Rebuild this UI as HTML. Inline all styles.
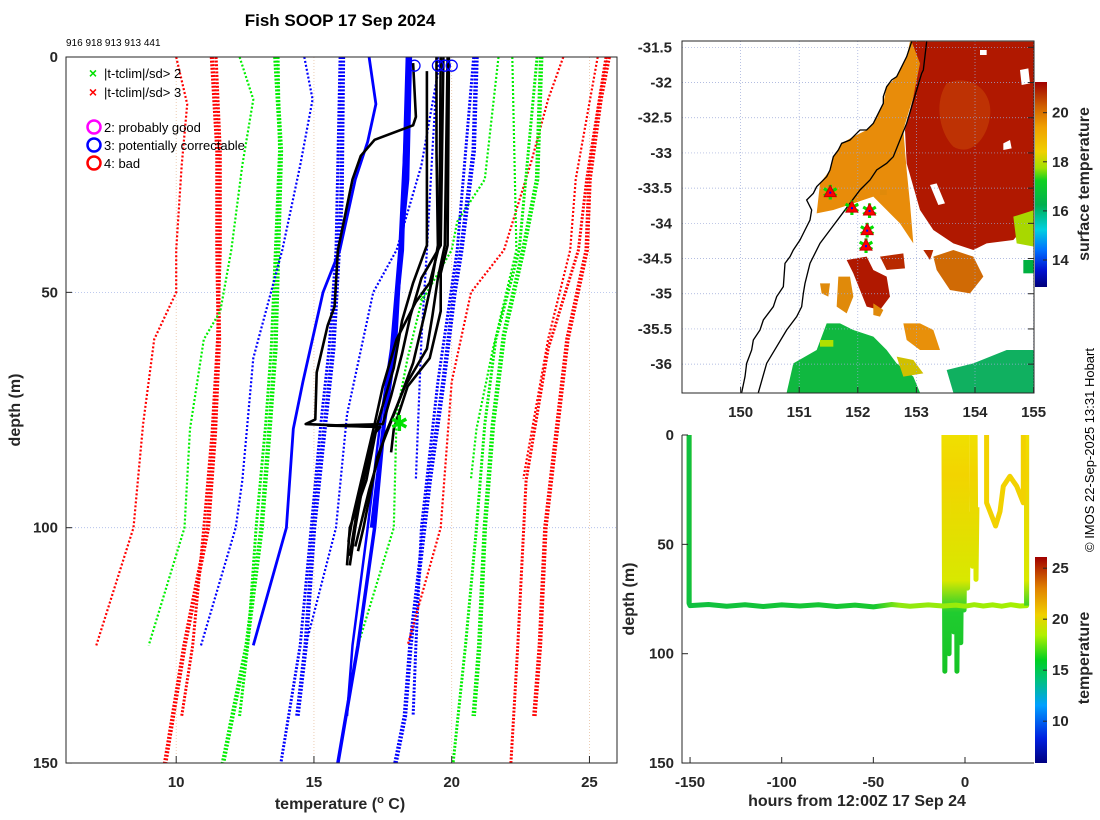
<!DOCTYPE html>
<html><head><meta charset="utf-8">
<style>
html,body{margin:0;padding:0;background:#fff;}
svg{display:block;font-family:"Liberation Sans","DejaVu Sans",sans-serif;}
.tk{font-size:15px;font-weight:bold;fill:#262626;}
.lb{font-size:16px;font-weight:bold;fill:#262626;}
</style></head>
<body>
<svg id="fig" width="1100" height="820" viewBox="0 0 1100 820" xmlns="http://www.w3.org/2000/svg">
<defs>
 <linearGradient id="sstbar" x1="0" y1="1" x2="0" y2="0">
  <stop offset="0" stop-color="#00007a"/><stop offset="0.08" stop-color="#0010d0"/>
  <stop offset="0.18" stop-color="#0070ff"/><stop offset="0.28" stop-color="#00d0e0"/>
  <stop offset="0.40" stop-color="#00b050"/><stop offset="0.52" stop-color="#10d020"/>
  <stop offset="0.58" stop-color="#a0e000"/><stop offset="0.66" stop-color="#f0d000"/>
  <stop offset="0.78" stop-color="#f0a000"/><stop offset="0.88" stop-color="#d06000"/>
  <stop offset="1" stop-color="#a00000"/>
 </linearGradient>
 <linearGradient id="tbar" x1="0" y1="1" x2="0" y2="0">
  <stop offset="0" stop-color="#000080"/><stop offset="0.12" stop-color="#0020e0"/>
  <stop offset="0.28" stop-color="#00a0ff"/><stop offset="0.40" stop-color="#00c080"/>
  <stop offset="0.50" stop-color="#00d020"/><stop offset="0.62" stop-color="#b0f000"/>
  <stop offset="0.72" stop-color="#f0d000"/><stop offset="0.85" stop-color="#e08000"/>
  <stop offset="1" stop-color="#a00000"/>
 </linearGradient>
 <linearGradient id="trk" gradientUnits="userSpaceOnUse" x1="0" y1="435" x2="0" y2="700">
  <stop offset="0" stop-color="#f0e000"/><stop offset="0.15" stop-color="#f2d400"/>
  <stop offset="0.55" stop-color="#d8e800"/><stop offset="0.62" stop-color="#60d820"/>
  <stop offset="0.67" stop-color="#20cc30"/><stop offset="1" stop-color="#10c020"/>
 </linearGradient>
 <linearGradient id="trkh" gradientUnits="userSpaceOnUse" x1="686" y1="0" x2="1030" y2="0">
  <stop offset="0" stop-color="#10c040"/><stop offset="0.55" stop-color="#18c830"/>
  <stop offset="0.62" stop-color="#90e810"/><stop offset="1" stop-color="#a8f000"/>
 </linearGradient>
 <clipPath id="clipL"><rect x="66" y="57" width="551" height="706"/></clipPath>
 <clipPath id="clipM"><rect x="682" y="41" width="352" height="352"/></clipPath>
 <clipPath id="clipB"><rect x="682" y="435" width="352" height="328"/></clipPath>
</defs>

<text x="340" y="26" text-anchor="middle" style="font-size:17px;font-weight:bold">Fish SOOP 17 Sep 2024</text>
<text x="66" y="46" style="font-size:10px">916 918 913 913 441</text>

<g id="leftGrid"></g>
<g id="leftLines" clip-path="url(#clipL)"></g>
<rect x="66" y="57" width="551" height="706" fill="none" stroke="#262626" stroke-width="1"/>
<g id="leftTicks"></g>
<text x="20" y="410" transform="rotate(-90 20 410)" text-anchor="middle" class="lb">depth (m)</text>
<text x="340" y="809" text-anchor="middle" class="lb">temperature (<tspan dy="-6" style="font-size:11px">o</tspan><tspan dy="6"> C)</tspan></text>

<g>
 <text x="93" y="78" text-anchor="middle" fill="#00e000" style="font-size:14px;font-weight:bold">×</text>
 <text x="104" y="78" style="font-size:13px">|t-tclim|/sd&gt; 2</text>
 <text x="93" y="97" text-anchor="middle" fill="#ff0000" style="font-size:14px;font-weight:bold">×</text>
 <text x="104" y="97" style="font-size:13px">|t-tclim|/sd&gt; 3</text>
 <circle cx="94" cy="127" r="6.5" fill="none" stroke="#ff00ff" stroke-width="2.5"/>
 <text x="104" y="132" style="font-size:13px">2: probably good</text>
 <circle cx="94" cy="145" r="6.5" fill="none" stroke="#0000ff" stroke-width="2.5"/>
 <text x="104" y="150" style="font-size:13px">3: potentially correctable</text>
 <circle cx="94" cy="163" r="6.5" fill="none" stroke="#ff0000" stroke-width="2.5"/>
 <text x="104" y="168" style="font-size:13px">4: bad</text>
</g>

<!-- MAP -->
<g clip-path="url(#clipM)">
 <g transform="translate(620,30) scale(0.33333)">
  <path d="M870,35 L860,80 L830,140 L800,170 L790,220 L760,280 L740,300 L700,320 L665,340 L640,380 L630,420 L600,460 L590,550 L640,540 L700,520 L760,500 L800,540 L840,580 L880,640 L870,520 L860,420 L850,300 L880,200 L905,100 L915,35 Z" fill="#e88c0a"/>
  <path d="M875,35 L1243,35 L1243,560 L1180,630 L1100,640 L1060,660 L1000,640 L940,600 L900,540 L880,470 L860,400 L855,300 L880,200 L900,100 Z" fill="#b01800"/>
  <path d="M980,160 C1050,130 1120,180 1110,260 C1100,330 1050,380 1000,350 C960,310 940,220 980,160 Z" fill="#c23a05" opacity="0.8"/>
  <path d="M1200,120 L1225,115 L1230,160 L1205,165 Z M1150,340 L1170,330 L1175,355 L1150,360 Z M930,465 L950,460 L975,520 L955,525 Z M1080,60 L1100,60 L1100,75 L1080,75 Z" fill="#ffffff"/>
  <path d="M1180,560 L1243,540 L1243,650 L1190,640 Z" fill="#a8d800"/>
  <path d="M1210,690 L1243,690 L1243,730 L1210,730 Z" fill="#00b040"/>
  <path d="M940,680 L1000,660 L1060,680 L1090,740 L1050,790 L990,780 L950,720 Z" fill="#d06a05"/>
  <path d="M680,690 L740,680 L760,720 L800,740 L810,800 L780,840 L740,830 L720,780 L700,730 Z" fill="#b01800"/>
  <path d="M780,680 L850,670 L855,715 L800,720 Z M910,660 L940,660 L930,690 Z" fill="#b82a00"/>
  <path d="M655,740 L690,740 L700,800 L680,850 L650,830 Z M600,760 L630,760 L625,800 L605,790 Z M760,820 L790,840 L780,860 L760,855 Z M780,480 L800,480 L800,495 L780,495 Z" fill="#e08a0a"/>
  <path d="M850,880 L900,880 L940,900 L960,960 L900,960 L860,930 Z" fill="#e8900a"/>
  <path d="M500,1088 L520,1000 L590,960 L620,880 L660,880 L700,900 L760,920 L800,960 L830,1000 L880,1040 L900,1088 Z" fill="#10b840"/>
  <path d="M830,980 L880,990 L910,1030 L850,1040 Z" fill="#d0c000"/>
  <path d="M980,1020 L1060,1000 L1160,960 L1243,960 L1243,1088 L1000,1088 Z" fill="#10b060"/>
  <path d="M600,930 L640,930 L640,950 L600,950 Z" fill="#b0e000"/>
 </g>
 <g id="mapGrid"></g>
 <g transform="translate(620,30) scale(0.33333)" fill="none" stroke="#000" stroke-width="4">
  <path d="M365,1088 L375,1040 L380,1000 L395,960 L400,930 L420,900 L430,870 L460,830 L470,800 L490,770 L495,700 L510,680 L520,660 L540,630 L555,600 L570,570 L575,540 L560,510 L580,490 L590,470 L600,460 L620,440 L630,420 L635,400 L640,380 L655,360 L665,340 L690,330 L700,320 L720,300 L740,300 L760,280 L775,250 L790,220 L790,200 L800,170 L815,150 L830,140 L845,110 L860,80 L875,35"/>
  <path d="M415,1088 L440,1000 L470,950 L500,900 L530,860 L545,830 L550,790 L555,760 L570,700 L600,640 L630,600 L660,560 L690,520 L720,480 L750,450 L770,420 L800,400 L820,380 L840,330 L860,280 L875,230 L890,180 L905,130 L910,120 L920,35" stroke-width="4"/>
 </g>
 <g id="mapMarks"></g>
</g>
<rect x="682" y="41" width="352" height="352" fill="none" stroke="#262626" stroke-width="1"/>
<g id="mapTicks"></g>
<rect x="1035" y="82" width="12" height="205" fill="url(#sstbar)"/>
<g id="sstTicks"></g>
<text x="1089" y="184" transform="rotate(-90 1089 184)" text-anchor="middle" class="lb">surface temperature</text>

<!-- BOTTOM RIGHT -->
<g id="trkLines" clip-path="url(#clipB)"></g>
<path d="M682,435 L682,763 L1034,763" fill="none" stroke="#262626" stroke-width="1"/>
<g id="trkTicks"></g>
<text x="634" y="599" transform="rotate(-90 634 599)" text-anchor="middle" class="lb">depth (m)</text>
<text x="857" y="806" text-anchor="middle" class="lb">hours from 12:00Z 17 Sep 24</text>
<rect x="1035" y="557" width="12" height="206" fill="url(#tbar)"/>
<g id="tTicks"></g>
<text x="1089" y="658" transform="rotate(-90 1089 658)" text-anchor="middle" class="lb">temperature</text>
<text x="1094" y="450" transform="rotate(-90 1094 450)" text-anchor="middle" style="font-size:13px">© IMOS 22-Sep-2025 13:31 Hobart</text>

<script>
const NS = "http://www.w3.org/2000/svg";
// ----- profile chart data: [depth, temperature] -----
const climRedThinL = [[0,10.0],[10,10.4],[23,10.2],[41,10.0],[50,10.0],[60,9.2],[78,8.8],[100,8.45],[125,7.1]];
const climRedThickL1 = [[0,11.3],[20,11.5],[41,11.5],[60,11.55],[80,11.4],[100,11.15],[125,10.3],[150,9.6]];
const climRedThickL2 = [[0,11.45],[20,11.6],[41,11.6],[60,11.5],[80,11.3],[100,11.0],[125,10.6],[140,10.2]];
const climGreenThinL = [[0,12.3],[9,12.8],[23,12.4],[41,12.0],[54,11.6],[60,11.0],[79,10.5],[100,10.3],[125,9.0]];
const climGreenThickL1 = [[0,13.6],[20,13.8],[41,13.7],[62,13.6],[78,13.4],[100,13.1],[125,12.56],[150,11.7]];
const climGreenThickL2 = [[0,13.7],[20,13.75],[41,13.6],[62,13.45],[78,13.25],[100,12.9],[125,12.6],[140,12.3]];
const climBlueThinL = [[0,14.65],[9,14.95],[23,14.5],[41,13.85],[64,12.8],[90,12.4],[100,12.16],[125,10.9]];
const climBlueThickL1 = [[0,16.05],[30,16.0],[41,15.9],[62,15.7],[78,15.4],[100,15.0],[125,14.7],[140,14.4]];
const climBlueThickL2 = [[0,15.95],[41,15.8],[62,15.55],[78,15.25],[100,14.9],[125,14.5],[150,13.8]];
const climBlueThinM = [[0,19.6],[23,18.9],[41,18.0],[50,17.15],[76,16.2],[100,15.8],[125,14.7]];
const climGreenThinM = [[0,21.7],[26,21.2],[35,20.2],[41,20.0],[52,18.9],[64,18.4],[76,18.0],[100,17.9],[125,16.6]];
const climBlueThickR1 = [[0,20.9],[20,20.8],[41,20.35],[50,20.1],[69,19.7],[90,19.2],[100,19.0],[125,18.5],[140,18.3],[150,17.96]];
const climBlueThickR2 = [[0,20.8],[41,20.2],[69,19.5],[100,18.9],[125,18.7],[140,18.6]];
const climBlueThinR = [[0,19.5],[20,19.3],[41,19.1],[60,18.9],[89.6,18.7]];
const climRedThinR = [[0,24.05],[9,23.5],[22,22.9],[41,21.9],[50,20.7],[69,20.0],[100,19.6],[125,18.4]];
const climGreenThickR1 = [[0,23.25],[26,23.1],[41,22.6],[59,21.9],[78,21.5],[100,21.2],[125,21.0],[140,20.8]];
const climGreenThickR2 = [[0,23.1],[41,22.45],[60,21.6],[78,21.2],[100,20.9],[125,20.5],[150,20.05]];
const climGreenThinR = [[0,22.2],[41,22.35],[62,21.5],[79,20.9],[89.6,20.7]];
const climRedThickR1 = [[0,25.7],[9,25.4],[26,25.0],[41,24.9],[60,24.2],[100,23.4],[125,23.2],[140,23.0]];
const climRedThickR2 = [[0,25.6],[26,24.9],[41,24.6],[62,23.5],[90,22.7],[125,22.4],[150,22.15]];
const climRedThinR2 = [[0,25.3],[26,24.5],[41,24.3],[60,23.5],[89.6,22.6]];
const obsBlueA = [[0,17.0],[10,17.25],[18,16.95],[26,16.5],[41,15.94],[50,15.33],[69,14.6],[79,14.25],[100,14.0],[125,12.8]];
const obsBlueB = [[0,18.5],[26,18.4],[41,18.15],[62,17.95],[78,17.55],[100,17.2],[125,16.6],[150,15.87]];
const obsBlueC = [[0,18.45],[41,18.1],[62,17.8],[78,17.4],[100,16.95],[125,16.4],[140,16.2]];
const obsBlueD = [[0,18.4],[41,18.2],[70,17.7],[100,17.1]];
const obsBlack1 = [[1.3,18.6],[12.7,18.7],[14.5,18.6],[17.6,17.2],[21,16.7],[26,16.4],[41,15.87],[53,15.75],[57,15.5],[67,15.1],[77,15.05],[78,14.7],[78.3,16.0],[78.6,17.3],[80,17.2],[90,16.8],[100,16.5],[108,16.3]];
const obsBlack2 = [[0,19.45],[20,19.45],[40,19.5],[47,19.3],[55,19.0],[65,18.6],[76,17.9],[85,17.3],[100,16.8],[105,16.6]];
const obsBlack3 = [[0,19.85],[20,19.8],[40,19.75],[47,19.5],[55,19.3],[62,19.1],[70,18.3],[80,17.6],[92,17.0],[104,16.5]];
const obsBlack4 = [[3,19.1],[20,19.1],[40,19.1],[48,18.6],[56,18.2],[66,17.9],[78,17.3],[90,16.9],[100,16.3],[108,16.2]];
const obsBlack5 = [[0,19.7],[40,19.6],[47,18.9],[55,18.5],[63,18.2],[72,17.8],[78,17.5],[78.3,15.5],[78.6,17.4],[80,17.2],[95,16.6],[106,16.3]];
const obsBlack6 = [[0,19.6],[40,19.55],[48,19.2],[52,18.7],[60,18.0],[70,17.5],[78,17.2],[88,16.8],[98,16.4],[103,16.25]];
const obsBlack7 = [[0,19.9],[40,19.85],[46,19.6],[54,19.6],[64,19.2],[70,18.4],[79,17.9],[84,17.8]];
const flagCircleTemps = [18.65, 19.5, 19.75, 20.0];
const flagCircleDepths = [1, 1, 1, 1];
const flagXTemps = [18.95];
const flagXDepths = [51];
const flagStarTemps = [18.1];
const flagStarDepths = [78];
const tempTicks = [10, 15, 20, 25];
const depthTicks = [0, 50, 100, 150];

// ----- map data -----
const lonTicks = [150, 151, 152, 153, 154, 155];
const latTicks = [-31.5, -32, -32.5, -33, -33.5, -34, -34.5, -35, -35.5, -36];
const dropLons = [151.53, 151.90, 152.20, 152.16, 152.14];
const dropLats = [-33.55, -33.77, -33.81, -34.09, -34.31];
const sstTicks = [14, 16, 18, 20];

// ----- depth/time track data -----
const trackHours = [-150.5,-150.5,-150,-140,-130,-120,-110,-100,-90,-80,-70,-60,-50,-40,-30,-20,-12,-5,0,5,10,15,20,25,30,33.6,33.6];
const trackDepths = [0,77,78,77.5,78.3,77.6,78.4,77.7,78.2,77.6,78.4,77.8,78.6,77.5,78.3,77.7,78.2,77.8,78.3,77.6,78.2,77.7,78.3,77.6,78.2,78,0];
const spikeHours = [-11.5, -10.7, -9.2, -6.7, -4.9, -2.8, -1.0, 0.9, 3.6, 5.5];
const spikeBottoms = [108, 95, 100, 90, 108, 95, 80, 70, 60, 66];
const shallowHours = [11.8, 11.8, 16.7, 19.1, 20.9, 24.5, 28.2, 31.8, 31.8];
const shallowDepths = [0, 31, 41.6, 35, 23.4, 18.9, 23.4, 31, 0];
const hourTicks = [-150, -100, -50, 0];
const trkDepthTicks = [0, 50, 100, 150];
const tempBarTicks = [10, 15, 20, 25];

// ----- scales -----
const X = t => 66 + (t - 6) * 27.55;
const Y = d => 57 + d * 4.707;
const LON = l => 682 + (l - 149) * 58.6;
const LAT = l => 41 + (-31.41 - l) * 70.4;
const HX = h => 965 + h * 1.833;
const HY = d => 435 + d * 2.187;
const SY = v => 287 - (v - 12.9) * 24.55;
const TY = v => 763 - (v - 5.9) * 10.2;

function mk(tag, parent, attrs) {
  const e = document.createElementNS(NS, tag);
  for (const k in attrs) e.setAttribute(k, attrs[k]);
  parent.appendChild(e);
  return e;
}
const gGrid = document.getElementById('leftGrid');
const gL = document.getElementById('leftLines');
const gT = document.getElementById('leftTicks');

tempTicks.forEach(t => {
  const l = mk('line', gGrid, {x1: X(t), x2: X(t), y1: 57, y2: 763, stroke: '#e8c0a0', 'stroke-width': 0.8, 'stroke-dasharray': '1 2'});
  
  
  const tk = mk('line', gT, {x1: X(t), x2: X(t), y1: 763, y2: 756, stroke: '#262626'});
  
  
  const tx = mk('text', gT, {x: X(t), y: 787, 'text-anchor': 'middle', class: 'tk'});
  tx.textContent = t;
  
  
});
depthTicks.forEach(d => {
  if (d > 0 && d < 150) {
    const l = mk('line', gGrid, {x1: 66, x2: 617, y1: Y(d), y2: Y(d), stroke: '#a8b8e8', 'stroke-width': 0.8, 'stroke-dasharray': '1 2'});
    
    
  }
  const tk = mk('line', gT, {x1: 66, x2: 72, y1: Y(d), y2: Y(d), stroke: '#262626'});
  
  
  const tx = mk('text', gT, {x: 58, y: Y(d) + 5, 'text-anchor': 'end', class: 'tk'});
  tx.textContent = d;
  
  
});

function profile(data, color, width, dotted, name) {
  const pts = data.map(p => X(p[1]).toFixed(1) + ',' + Y(p[0]).toFixed(1)).join(' ');
  const a = {points: pts, fill: 'none', stroke: color, 'stroke-width': width, 'stroke-linejoin': 'round'};
  if (dotted) a['stroke-dasharray'] = dotted;
  const e = mk('polyline', gL, a);
  
  
}
const R = '#ff0000', G = '#00ee00', B = '#0000ff';
profile(climRedThinL, R, 2.2, '2 2', 'clim-red-thin-left');
profile(climRedThickL1, R, 4.5, '2 1.6', 'clim-red-thick-left');
profile(climRedThickL2, R, 3, '2 1.6', 'clim-red-thick-left-2');
profile(climGreenThinL, G, 2.2, '2 2', 'clim-green-thin-left');
profile(climGreenThickL1, G, 4.5, '2 1.6', 'clim-green-thick-left');
profile(climGreenThickL2, G, 3, '2 1.6', 'clim-green-thick-left-2');
profile(climBlueThinL, B, 2.2, '2 2', 'clim-blue-thin-left');
profile(climBlueThickL1, B, 4.5, '2 1.6', 'clim-blue-thick-left');
profile(climBlueThickL2, B, 3, '2 1.6', 'clim-blue-thick-left-2');
profile(climBlueThinM, B, 2.2, '2 2', 'clim-blue-thin-mid');
profile(climGreenThinM, G, 2.2, '2 2', 'clim-green-thin-mid');
profile(climBlueThickR1, B, 4.5, '2 1.6', 'clim-blue-thick-right');
profile(climBlueThickR2, B, 3, '2 1.6', 'clim-blue-thick-right-2');
profile(climBlueThinR, B, 2.2, '2 2', 'clim-blue-thin-right');
profile(climRedThinR, R, 2.2, '2 2', 'clim-red-thin-right');
profile(climGreenThickR1, G, 4.5, '2 1.6', 'clim-green-thick-right');
profile(climGreenThickR2, G, 3, '2 1.6', 'clim-green-thick-right-2');
profile(climGreenThinR, G, 2.2, '2 2', 'clim-green-thin-right');
profile(climRedThickR1, R, 4.5, '2 1.6', 'clim-red-thick-right');
profile(climRedThickR2, R, 3, '2 1.6', 'clim-red-thick-right-2');
profile(climRedThinR2, R, 2.2, '2 2', 'clim-red-thin-right-2');
profile(obsBlueA, B, 2.8, null, 'profile-blue-a');
profile(obsBlueB, B, 3.5, null, 'profile-blue-b');
profile(obsBlueC, B, 2.5, null, 'profile-blue-c');
profile(obsBlueD, B, 4, null, 'profile-blue-d');
[obsBlack1, obsBlack2, obsBlack3, obsBlack4, obsBlack5, obsBlack6, obsBlack7].forEach((p, i) => {
  profile(p, '#000', 2.6, null, 'profile-black-' + (i + 1));
});
flagCircleTemps.forEach((t, i) => {
  const c = mk('circle', gL, {cx: X(t), cy: Y(flagCircleDepths[i]) + 4, r: 5.5, fill: 'none', stroke: B, 'stroke-width': 1.3});
  
  
});
flagXTemps.forEach((t, i) => {
  const x = mk('text', gL, {x: X(t), y: Y(flagXDepths[i]) + 5, 'text-anchor': 'middle', fill: '#00e000', style: 'font-size:14px'});
  x.textContent = '×';
  
  
});
flagStarTemps.forEach((t, i) => {
  const x = mk('text', gL, {x: X(t), y: Y(flagStarDepths[i]) + 7, 'text-anchor': 'middle', fill: '#00e000', style: 'font-size:22px;font-weight:bold'});
  x.textContent = '✱';
  
  
});

// ----- map -----
const mg = document.getElementById('mapGrid');
const mt = document.getElementById('mapTicks');
lonTicks.forEach(l => {
  const g = mk('line', mg, {x1: LON(l), x2: LON(l), y1: 41, y2: 393, stroke: '#9aa8d8', 'stroke-width': 0.7, 'stroke-dasharray': '1 2'});
  
  
  const tx = mk('text', mt, {x: LON(l), y: 417, 'text-anchor': 'middle', class: 'tk'});
  tx.textContent = l;
  
  
  const tk = mk('line', mt, {x1: LON(l), x2: LON(l), y1: 393, y2: 387, stroke: '#262626'});
  
  
});
latTicks.forEach(l => {
  const g = mk('line', mg, {x1: 682, x2: 1034, y1: LAT(l), y2: LAT(l), stroke: '#9aa8d8', 'stroke-width': 0.7, 'stroke-dasharray': '1 2'});
  
  
  const tx = mk('text', mt, {x: 672, y: LAT(l) + 5, 'text-anchor': 'end', class: 'tk'});
  tx.textContent = l;
  
  
  const tk = mk('line', mt, {x1: 1034, x2: 1028, y1: LAT(l), y2: LAT(l), stroke: '#262626'});
  
  
});
const mm = document.getElementById('mapMarks');
dropLons.forEach((l, i) => {
  const x = LON(l), y = LAT(dropLats[i]);
  const s = mk('text', mm, {x: x, y: y + 8, 'text-anchor': 'middle', fill: '#00e000', style: 'font-size:20px'});
  s.textContent = '✱';
  
  
  const t = mk('polygon', mm, {points: `${x},${y-6} ${x-6},${y+5} ${x+6},${y+5}`, fill: '#ff0000', stroke: '#cc0000', 'stroke-width': 1});
  
  
  const d = mk('rect', mm, {x: x - 1, y: y, width: 2, height: 2, fill: '#0000ff'});
  
  
});
const st = document.getElementById('sstTicks');
sstTicks.forEach(v => {
  const tk = mk('line', st, {x1: 1047, x2: 1043, y1: SY(v), y2: SY(v), stroke: '#262626'});
  
  
  const tx = mk('text', st, {x: 1052, y: SY(v) + 5, class: 'tk'});
  tx.textContent = v;
  
  
});

// ----- track -----
const tl = document.getElementById('trkLines');
spikeHours.forEach((h, i) => {
  const e = mk('polyline', tl, {points: `${HX(h)},${HY(0)} ${HX(h + 0.5)},${HY(spikeBottoms[i])} ${HX(h + 1)},${HY(spikeBottoms[i] * 0.5)}`, fill: 'none', stroke: 'url(#trk)', 'stroke-width': 5, 'stroke-linejoin': 'round'});
  
  
});
const mainPts = trackHours.map((h, i) => HX(h).toFixed(1) + ',' + HY(trackDepths[i]).toFixed(1)).join(' ');
const vert1 = mk('polyline', tl, {points: `${HX(trackHours[0])},${HY(trackDepths[0])} ${HX(trackHours[1])},${HY(trackDepths[1])}`, fill: 'none', stroke: 'url(#trk)', 'stroke-width': 5});


const mainL = mk('polyline', tl, {points: mainPts, fill: 'none', stroke: 'url(#trkh)', 'stroke-width': 5, 'stroke-linejoin': 'round'});


const n = trackHours.length;
const vert2 = mk('polyline', tl, {points: `${HX(trackHours[n-2])},${HY(trackDepths[n-2])} ${HX(trackHours[n-1])},${HY(trackDepths[n-1])}`, fill: 'none', stroke: 'url(#trk)', 'stroke-width': 5});


const shPts = shallowHours.map((h, i) => HX(h).toFixed(1) + ',' + HY(shallowDepths[i]).toFixed(1)).join(' ');
const sh = mk('polyline', tl, {points: shPts, fill: 'none', stroke: '#f2d200', 'stroke-width': 5, 'stroke-linejoin': 'round'});



const tt = document.getElementById('trkTicks');
hourTicks.forEach(h => {
  const tk = mk('line', tt, {x1: HX(h), x2: HX(h), y1: 763, y2: 757, stroke: '#262626'});
  
  
  const tx = mk('text', tt, {x: HX(h), y: 787, 'text-anchor': 'middle', class: 'tk'});
  tx.textContent = h;
  
  
});
trkDepthTicks.forEach(d => {
  const tk = mk('line', tt, {x1: 682, x2: 688, y1: HY(d), y2: HY(d), stroke: '#262626'});
  
  
  const tx = mk('text', tt, {x: 674, y: HY(d) + 5, 'text-anchor': 'end', class: 'tk'});
  tx.textContent = d;
  
  
});
const tb = document.getElementById('tTicks');
tempBarTicks.forEach(v => {
  const tk = mk('line', tb, {x1: 1047, x2: 1043, y1: TY(v), y2: TY(v), stroke: '#262626'});
  
  
  const tx = mk('text', tb, {x: 1052, y: TY(v) + 5, class: 'tk'});
  tx.textContent = v;
  
  
});
</script>
</svg>
</body></html>
